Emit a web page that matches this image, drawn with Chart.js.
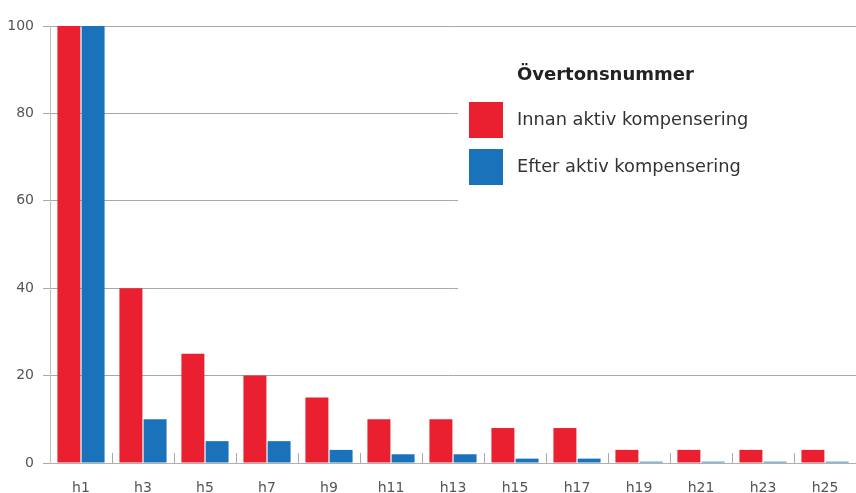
<!DOCTYPE html>
<html>
<head>
<meta charset="utf-8">
<script src="https://cdn.jsdelivr.net/npm/chart.js@4"></script>
<style>
  html, body { margin: 0; padding: 0; background: #fff; }
  #wrap { width: 856px; height: 493px; }
</style>
</head>
<body>
<div id="wrap"><canvas id="chart" width="856" height="493"></canvas></div>
<script>
// data
const harmonics = ["h1", "h3", "h5", "h7", "h9", "h11", "h13", "h15", "h17", "h19", "h21", "h23", "h25"];
const innan = [100, 40, 25, 20, 15, 10, 10, 8, 8, 3, 3, 3, 3];
const efter = [100, 10, 5, 5, 3, 2, 2, 1, 1, 0.3, 0.3, 0.3, 0.3];
const yTicks = [0, 20, 40, 60, 80, 100];
const legendTitle = "Övertonsnummer";

const FONT = "'DejaVu Sans', sans-serif";
const RED = "#ea1f30";
const BLUE = "#1a73ba";

// small upward tick marks between categories on the x axis
const boundaryTicks = {
  id: "boundaryTicks",
  afterDatasetsDraw(chart) {
    const x = chart.scales.x;
    const ctx = chart.ctx;
    const bottom = chart.chartArea.bottom;
    ctx.save();
    ctx.strokeStyle = "#aaaaaa";
    ctx.lineWidth = 1;
    for (let i = 0; i < harmonics.length - 1; i++) {
      const px = Math.round((x.getPixelForValue(i) + x.getPixelForValue(i + 1)) / 2) + 0.5;
      ctx.beginPath();
      ctx.moveTo(px, bottom - 10);
      ctx.lineTo(px, bottom);
      ctx.stroke();
    }
    ctx.restore();
  },
};

// white legend panel on the right
const legendBox = {
  id: "legendBox",
  afterDraw(chart) {
    const ctx = chart.ctx;
    ctx.save();
    ctx.fillStyle = "#ffffff";
    ctx.fillRect(458, 30, 400, 342);

    ctx.fillStyle = "#222";
    ctx.font = "bold 18px " + FONT;
    ctx.textBaseline = "middle";
    ctx.textAlign = "left";
    ctx.fillText(legendTitle, 517, 75);

    ctx.font = "17.8px " + FONT;
    chart.data.datasets.forEach((ds, i) => {
      const y = 102 + i * 47;
      ctx.fillStyle = ds.backgroundColor;
      ctx.fillRect(469, y, 34, 36);
      ctx.fillStyle = "#333";
      ctx.fillText(ds.label, 517, y + 18);
    });
    ctx.restore();
  },
};

new Chart(document.querySelector("#chart"), {
  type: "bar",
  data: {
    labels: harmonics,
    datasets: [
      { label: "Innan aktiv kompensering", data: innan, backgroundColor: RED },
      { label: "Efter aktiv kompensering", data: efter, backgroundColor: BLUE },
    ],
  },
  options: {
    responsive: false,
    animation: false,
    categoryPercentage: 0.78,
    barPercentage: 0.95,
    layout: { padding: { top: 26, right: 0, left: 0, bottom: 0 } },
    plugins: { legend: { display: false }, tooltip: { enabled: false } },
    scales: {
      x: {
        offset: true,
        grid: { display: false, drawTicks: false },
        border: { display: true, color: "#b0b0b0", width: 1 },
        ticks: { color: "#555", font: { family: FONT, size: 14 }, padding: 17, maxRotation: 0, autoSkip: false },
        afterFit(scale) { scale.height = 30; },
      },
      y: {
        min: 0,
        max: 100,
        afterBuildTicks(scale) { scale.ticks = yTicks.map(v => ({ value: v })); },
        grid: { color: "#a8a8a8", lineWidth: 1, tickLength: 7 },
        border: { display: true, color: "#c0c0c0", width: 1 },
        ticks: { color: "#555", font: { family: FONT, size: 14 }, padding: 9 },
        afterFit(scale) { scale.width = 50; },
      },
    },
  },
  plugins: [boundaryTicks, legendBox],
});
</script>
</body>
</html>
